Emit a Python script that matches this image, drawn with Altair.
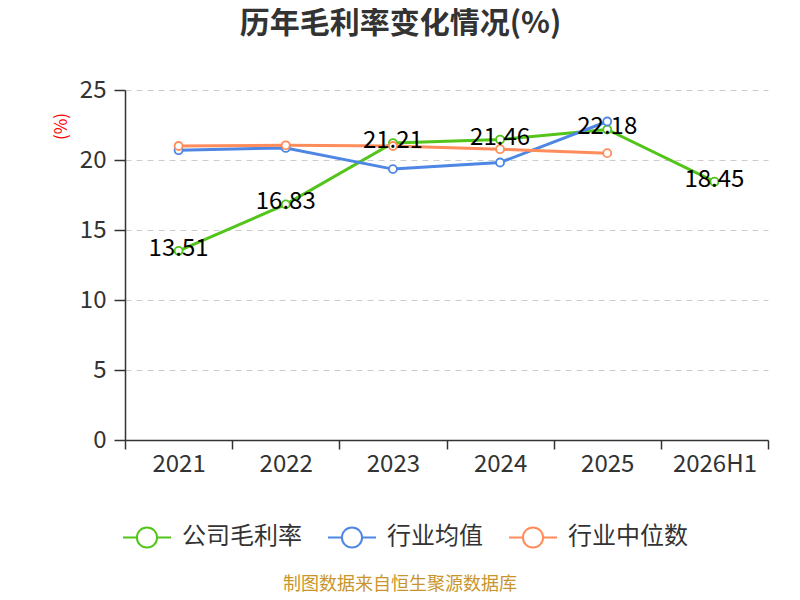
import altair as alt
import pandas as pd

years = ["2021", "2022", "2023", "2024", "2025", "2026H1"]
company = [13.51, 16.83, 21.21, 21.46, 22.18, 18.45]
ind_mean = [20.70, 20.86, 19.35, 19.82, 22.75]
ind_median = [21.00, 21.05, 21.00, 20.77, 20.49]
series_names = ["公司毛利率", "行业均值", "行业中位数"]
colors = ["#52c41a", "#4e86e4", "#ff8c5a"]

rows = []
for name, vals in zip(series_names, [company, ind_mean, ind_median]):
    for y, v in zip(years, vals):
        rows.append({"year": y, "value": v, "series": name})
df = pd.DataFrame(rows)
df_lab = pd.DataFrame({"year": years, "value": company})

FONT = "Noto Sans CJK SC"
legend_path = ("M-1,0L-0.42,0M0.42,0L1,0"
               "M-0.42,0A0.42,0.42,0,1,1,0.42,0A0.42,0.42,0,1,1,-0.42,0Z")

x_enc = alt.X("year:N", sort=years, title=None,
              scale=alt.Scale(paddingInner=0, paddingOuter=0),
              axis=alt.Axis(labelAngle=0, labelFontSize=24, labelColor="#333",
                            labelFont=FONT, domainColor="#333", domainWidth=1.5,
                            tickColor="#333", tickWidth=1.5, tickSize=9,
                            tickBand="extent", labelPadding=3, grid=False))
y_enc = alt.Y("value:Q", scale=alt.Scale(domain=[0, 25], nice=False),
              title="(%)",
              axis=alt.Axis(values=[0, 5, 10, 15, 20, 25], labelFontSize=24,
                            labelColor="#333", labelFont=FONT,
                            domainColor="#333", domainWidth=1.5,
                            tickColor="#333", tickWidth=1.5, tickSize=11,
                            labelPadding=8, grid=True, gridColor="#cccccc",
                            gridDash=[6, 5], gridWidth=1,
                            titleColor="red", titleFont=FONT, titleFontSize=17,
                            titleFontWeight="normal", titleX=-55, titleY=36,
                            titleAngle=-90))

lines = alt.Chart(df).mark_line(
    strokeWidth=3,
    point=alt.OverlayMarkDef(filled=False, fill="white", size=64, strokeWidth=1.8),
).encode(
    x=x_enc,
    y=y_enc,
    color=alt.Color("series:N",
                    scale=alt.Scale(domain=series_names, range=colors),
                    legend=alt.Legend(title=None, orient="none", direction="horizontal",
                                      legendX=-3, legendY=422,
                                      symbolType=legend_path, symbolSize=2304,
                                      symbolStrokeWidth=2, symbolFillColor="white",
                                      labelFontSize=24, labelColor="#333",
                                      labelFont=FONT, labelOffset=10,
                                      columnPadding=22, padding=0)),
    order=alt.Order("year:N"),
)

labels = alt.Chart(df_lab).mark_text(
    fontSize=24, font=FONT, color="#000", baseline="middle", dy=-2
).encode(
    x=alt.X("year:N", sort=years),
    y=alt.Y("value:Q"),
    text=alt.Text("value:Q", format=".2f"),
)

credit = alt.Chart(pd.DataFrame({"t": ["制图数据来自恒生聚源数据库"]})).mark_text(
    fontSize=18, font=FONT, color="#c9952b", baseline="middle"
).encode(
    x=alt.value(275), y=alt.value(495), text="t:N"
)

chart = alt.layer(lines, labels, credit).properties(
    width=643, height=350,
    autosize=alt.AutoSizeParams(type="none"),
    padding={"left": 117, "top": 82, "right": 24, "bottom": 152},
    title=alt.Title("历年毛利率变化情况(%)", font=FONT, fontSize=30,
                    fontWeight="bold", color="#333", anchor="middle", dx=-46,
                    offset=39, frame="group"),
).configure_view(stroke=None)

chart.save("out.html", embed_options={"renderer": "svg", "actions": False})
